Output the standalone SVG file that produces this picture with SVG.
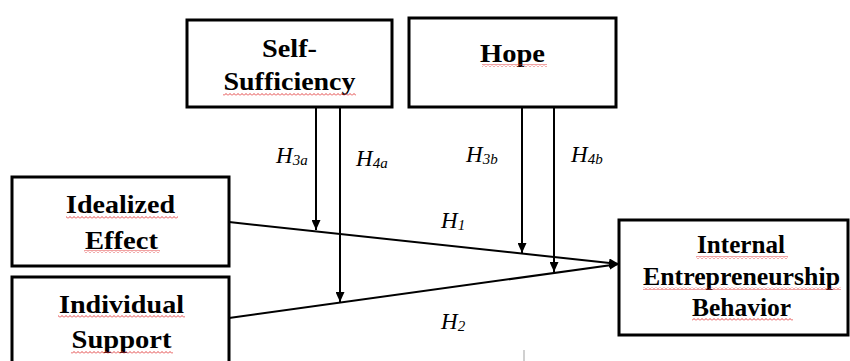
<svg xmlns="http://www.w3.org/2000/svg" width="850" height="361" viewBox="0 0 850 361">
<defs>
<style>
.box{fill:#fff;stroke:#000;stroke-width:3}
.t{font-family:'Liberation Serif',serif;font-weight:700;font-size:26px;fill:#000;text-anchor:middle}
.h{font-family:'Liberation Serif',serif;font-style:italic;font-size:23px;fill:#000}
.s{font-size:15px}
.c{stroke:#000;stroke-width:2;fill:none}
.sq{fill:url(#wave)}
</style>
<pattern id="wave" patternUnits="userSpaceOnUse" width="4" height="3">
<path d="M0,2.5 L2,0.5 L4,2.5" fill="none" stroke="#e03030" stroke-width="0.9"/>
</pattern>
<marker id="ah" markerUnits="userSpaceOnUse" markerWidth="10" markerHeight="9" refX="10" refY="4.5" orient="auto" viewBox="0 0 10 9">
<path d="M0,0 L10,4.5 L0,9 z" fill="#000"/>
</marker>
</defs>
<rect width="850" height="361" fill="#fff"/>
<g id="connectors">
<line class="c" x1="229" y1="222" x2="619" y2="264" marker-end="url(#ah)"/>
<line class="c" x1="229" y1="318" x2="619" y2="264" marker-end="url(#ah)"/>
<line class="c" x1="316" y1="107" x2="316" y2="230" marker-end="url(#ah)"/>
<line class="c" x1="340" y1="107" x2="340" y2="302" marker-end="url(#ah)"/>
<line class="c" x1="522" y1="107" x2="522" y2="253" marker-end="url(#ah)"/>
<line class="c" x1="554" y1="107" x2="554" y2="272" marker-end="url(#ah)"/>
<line x1="524" y1="350" x2="524" y2="361" stroke="#d0d0d0" stroke-width="2"/>
</g>
<g id="labels">
<text class="h" x="276" y="163">H<tspan class="s" dy="2">3a</tspan></text>
<text class="h" x="356" y="166">H<tspan class="s" dy="2">4a</tspan></text>
<text class="h" x="466" y="162">H<tspan class="s" dy="2">3b</tspan></text>
<text class="h" x="571" y="162">H<tspan class="s" dy="2">4b</tspan></text>
<text class="h" x="441" y="228">H<tspan class="s" dy="2">1</tspan></text>
<text class="h" x="441" y="329">H<tspan class="s" dy="2">2</tspan></text>
</g>
<g id="self-sufficiency">
<rect class="box" x="187" y="20" width="205" height="87"/>
<text class="t" x="289.5" y="57" textLength="55" lengthAdjust="spacingAndGlyphs">Self-</text>
<text class="t" x="289.5" y="90" textLength="132" lengthAdjust="spacingAndGlyphs">Sufficiency</text>
<rect class="sq" x="223" y="93" width="133" height="3"/>
</g>
<g id="hope">
<rect class="box" x="409" y="18" width="207" height="89"/>
<text class="t" x="512.5" y="62" textLength="65" lengthAdjust="spacingAndGlyphs">Hope</text>
<rect class="sq" x="482" y="64" width="65" height="3"/>
</g>
<g id="idealized-effect">
<rect class="box" x="12" y="177" width="217" height="89"/>
<text class="t" x="120.5" y="213" textLength="109" lengthAdjust="spacingAndGlyphs">Idealized</text>
<text class="t" x="121.5" y="249" textLength="73" lengthAdjust="spacingAndGlyphs">Effect</text>
<rect class="sq" x="66" y="216" width="112" height="3"/>
<rect class="sq" x="84" y="250" width="76" height="3"/>
</g>
<g id="individual-support">
<rect class="box" x="12" y="277" width="217" height="100"/>
<text class="t" x="121.5" y="313" textLength="125" lengthAdjust="spacingAndGlyphs">Individual</text>
<text class="t" x="121.5" y="348" textLength="100" lengthAdjust="spacingAndGlyphs">Support</text>
<rect class="sq" x="58" y="315" width="127" height="3"/>
<rect class="sq" x="71" y="351" width="102" height="3"/>
</g>
<g id="internal-entrepreneurship-behavior">
<rect class="box" x="619" y="220" width="229" height="115"/>
<text class="t" x="741" y="253" textLength="88" lengthAdjust="spacingAndGlyphs">Internal</text>
<text class="t" x="741.5" y="285" textLength="197" lengthAdjust="spacingAndGlyphs">Entrepreneurship</text>
<text class="t" x="741.5" y="316" textLength="99" lengthAdjust="spacingAndGlyphs">Behavior</text>
<rect class="sq" x="696" y="256" width="92" height="3"/>
<rect class="sq" x="643" y="287" width="198" height="3"/>
<rect class="sq" x="692" y="318" width="101" height="3"/>
</g>
</svg>
